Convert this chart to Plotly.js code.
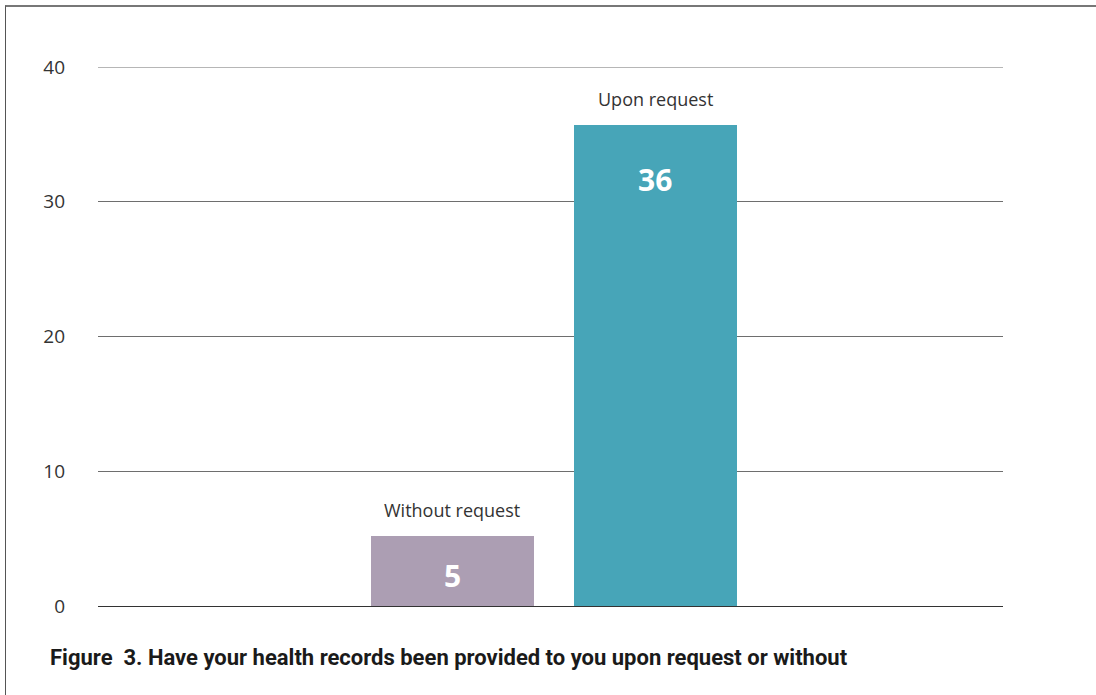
<!DOCTYPE html>
<html>
<head>
<meta charset="utf-8">
<script src="https://cdn.plot.ly/plotly-3.0.1.min.js"></script>
<style>
html,body{margin:0;padding:0;background:#fff;overflow:hidden;}
#frame{position:absolute;left:5px;top:5px;width:1200px;height:800px;border-top:2px solid #777;border-left:1px solid #555;pointer-events:none;z-index:5;}
#chart{width:1096px;height:695px;}
</style>
</head>
<body>
<div id="frame"></div>
<div id="chart"></div>
<script>
const categories = ["Without request", "Upon request"];
const values = [5.2, 35.7];
const barColors = ["#ac9eb3", "#47a5b8"];
const yTicks = [0, 10, 20, 30, 40];
const titleText = "Figure  3. Have your health records been provided to you upon request or without";

const trace = {
  type: "bar",
  x: categories,
  y: values,
  width: 0.803,
  marker: {color: barColors, line: {width: 0}},
  hoverinfo: "skip"
};

const annotations = [];
categories.forEach((c, i) => {
  annotations.push({
    x: c, y: values[i], xref: "x", yref: "y",
    text: c, showarrow: false, yanchor: "bottom", yshift: 12,
    font: {family: "Open Sans", size: 18, color: "#333"}
  });
  const barPx = values[i] * 539 / 40;
  const shift = -Math.min(55, barPx / 2 + 5);
  annotations.push({
    x: c, y: values[i], xref: "x", yref: "y",
    text: "<b>" + Math.round(values[i]) + "</b>", showarrow: false, yanchor: "middle", yshift: shift,
    font: {family: "Open Sans", size: 30, color: "#ffffff"}
  });
});

const topTick = yTicks[yTicks.length - 1];

const layout = {
  width: 1096, height: 695,
  margin: {l: 98, r: 93, t: 67, b: 89, pad: 0},
  paper_bgcolor: "#fff", plot_bgcolor: "#fff",
  showlegend: false,
  bargap: 0,
  title: {
    text: "<b>" + titleText + "</b>",
    xref: "container", yref: "container",
    x: 50 / 1096, xanchor: "left",
    y: 1 - 657 / 695, yanchor: "middle",
    font: {family: "Roboto", size: 22, color: "#1a1a1a"}
  },
  xaxis: {
    type: "category",
    range: [-1.746, 2.712],
    showticklabels: false, showgrid: false, zeroline: false, showline: false, ticks: ""
  },
  yaxis: {
    range: [0, topTick],
    tickvals: yTicks,
    ticktext: yTicks.map(String),
    showgrid: true, gridcolor: "#6e6e6e", gridwidth: 1,
    zeroline: true, zerolinecolor: "#333", zerolinewidth: 1,
    showline: false, ticks: "",
    ticklabelstandoff: 32,
    tickfont: {family: "Open Sans", size: 19, color: "#333"}
  },
  shapes: [{
    type: "line", xref: "paper", yref: "y",
    x0: 0, x1: 1, y0: topTick, y1: topTick,
    line: {color: "#6e6e6e", width: 1}, layer: "below"
  }],
  annotations: annotations
};

Plotly.newPlot("chart", [trace], layout, {displayModeBar: false, staticPlot: true});
</script>
</body>
</html>
